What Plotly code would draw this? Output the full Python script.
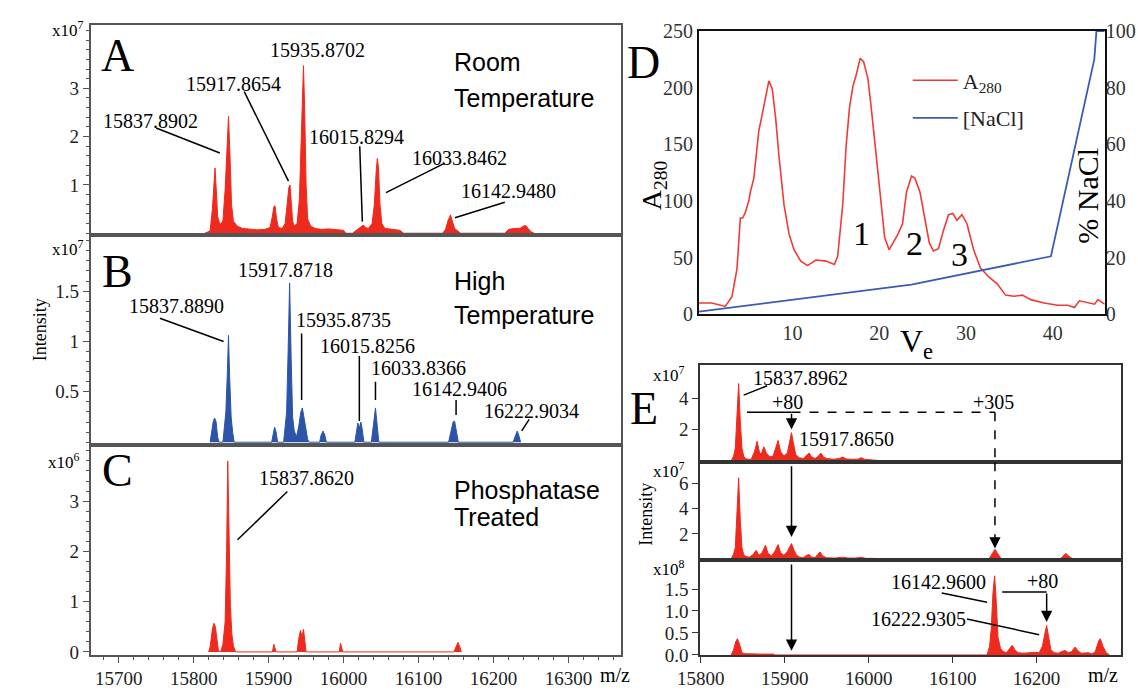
import plotly.graph_objects as go

W, H = 1138, 695
SERIF = "Liberation Serif"
SANS = "Liberation Sans"
RED = "#EE2A1E"
BLUE = "#2C54A8"

# ---------------- data ----------------
# Panel A (room temperature), intensity x1e7
A_mz = [15815, 15822, 15825, 15827, 15828.5, 15830, 15832, 15835, 15839, 15842, 15844.5, 15846.5, 15848.5,
        15850.5, 15853, 15858, 15865, 15875, 15885, 15895, 15902, 15905, 15907, 15908.5, 15910.5, 15913,
        15918, 15922, 15925, 15927, 15928.5, 15930, 15932, 15934, 15938, 15941, 15943.5, 15945.5, 15946.5,
        15948, 15950, 15952, 15956, 15962, 15970, 15980, 15990, 16000, 16003, 16012, 16016, 16020, 16024,
        16026.5, 16029, 16033, 16038, 16041, 16043.5, 16045, 16046.5, 16048.5, 16051, 16055, 16065, 16075,
        16080, 16132, 16136, 16139, 16142.5, 16145, 16148, 16152, 16156, 16215, 16220, 16228, 16235, 16240,
        16243, 16246, 16250, 16254]
A_int = [0, 0.05, 0.5, 1.1, 1.35, 0.95, 0.35, 0.18, 0.25, 0.9, 1.9, 2.42, 1.6,
         0.6, 0.25, 0.15, 0.1, 0.08, 0.07, 0.08, 0.12, 0.35, 0.55, 0.57, 0.3, 0.12,
         0.1, 0.2, 0.65, 0.95, 1.0, 0.7, 0.25, 0.15, 0.2, 0.7, 2.2, 3.3, 3.47,
         2.6, 1.0, 0.3, 0.15, 0.1, 0.08, 0.09, 0.07, 0.06, 0, 0, 0.05, 0.1, 0.15,
         0.17, 0.12, 0.1, 0.2, 0.6, 1.3, 1.55, 1.35, 0.6, 0.2, 0.1, 0.08, 0.06,
         0, 0, 0.08, 0.25, 0.38, 0.25, 0.1, 0.05, 0, 0, 0.08, 0.1, 0.1, 0.15,
         0.16, 0.1, 0.03, 0]

# Panel B (high temperature), intensity x1e7
B_mz = [15822, 15824, 15826, 15828, 15830, 15832, 15834, 15839, 15841, 15843, 15845, 15846.5, 15848, 15850,
        15852, 15854, 15904, 15906, 15908, 15910, 15912, 15920, 15922, 15924, 15926, 15928, 15930, 15932,
        15934, 15937, 15940, 15943, 15945, 15947, 15949, 15952, 15954, 15968, 15970, 15972.5, 15975, 15977,
        16015, 16017, 16019, 16021, 16023, 16025, 16027, 16037, 16039, 16042.5, 16045, 16047, 16140, 16143,
        16146, 16148, 16150, 16153, 16226, 16229, 16231.5, 16234, 16236]
B_int = [0, 0.1, 0.2, 0.24, 0.2, 0.05, 0, 0, 0.12, 0.3, 0.7, 1.06, 0.65, 0.25,
         0.1, 0, 0, 0.08, 0.15, 0.1, 0, 0, 0.15, 0.3, 0.9, 1.58, 0.85, 0.25,
         0.12, 0.05, 0.15, 0.3, 0.34, 0.25, 0.12, 0.03, 0, 0, 0.07, 0.11, 0.07, 0,
         0, 0.12, 0.19, 0.14, 0.2, 0.12, 0, 0, 0.15, 0.34, 0.15, 0, 0, 0.12,
         0.2, 0.21, 0.12, 0, 0, 0.07, 0.11, 0.06, 0]

# Panel C (phosphatase treated), intensity x1e6
C_mz = [15820, 15822, 15825, 15827, 15829, 15831, 15833, 15836, 15839, 15842, 15844, 15845.5, 15847, 15849,
        15851, 15853, 15856, 15905, 15907, 15909, 15910, 15938, 15940, 15942.5, 15944.5, 15946.5, 15948.5,
        15950, 15994, 15996, 15998, 15999, 16147, 16150, 16152.5, 16155, 16157]
C_int = [0, 0.1, 0.45, 0.57, 0.5, 0.2, 0.03, 0, 0.15, 0.6, 2.0, 3.8, 2.4, 0.9,
         0.35, 0.12, 0, 0, 0.15, 0.03, 0, 0, 0.25, 0.43, 0.3, 0.45, 0.2,
         0, 0, 0.17, 0.05, 0, 0, 0.12, 0.19, 0.1, 0]

# Panel D (chromatography)
D_ve = [-0.77, 0.70, 2.25, 3.02, 3.60, 3.99, 4.26, 4.57, 4.96, 5.15, 5.54, 6.12, 6.50, 6.89, 7.28, 7.67, 8.05,
        8.44, 9.02, 9.60, 10.18, 10.96, 11.73, 12.70, 13.86, 14.83, 15.21, 15.80, 16.18, 16.57, 16.96, 17.34,
        17.81, 18.20, 18.70, 19.09, 19.67, 20.25, 20.63, 21.14, 21.60, 22.18, 22.69, 23.15, 23.73, 24.12,
        24.70, 25.28, 25.78, 26.25, 26.83, 27.41, 27.99, 28.49, 28.96, 29.54, 30.12, 30.89, 31.67, 32.64,
        33.60, 34.57, 35.54, 36.51, 37.48, 39.02, 40.57, 41.73, 42.51, 43.09, 44.06, 44.83, 45.22, 46.0]
D_a280 = [10, 10, 7, 15.6, 40, 85, 85, 90, 100, 108, 120, 162, 176, 191, 206, 199, 174,
          140, 97, 71, 57, 47, 43, 48, 47, 44, 51, 97, 148, 182, 201, 211,
          226, 223, 208, 182, 140, 97, 68, 57, 63, 71, 80, 108, 122, 120,
          108, 85, 63, 56, 58, 74, 88, 89, 83, 88, 80, 57, 41, 33,
          27, 17, 16, 17, 13, 10, 8, 8, 6, 12, 10, 9, 13, 9]
NaCl_ve = [-0.77, 23.7, 39.8, 44.8, 45.05, 46.0]
NaCl_pct = [1, 10.5, 20.5, 90, 100, 100]

# Panel E (three fractions)
E1_mz = [15836, 15839, 15841, 15843, 15845, 15847, 15849, 15851, 15853, 15856, 15860, 15864, 15867, 15870,
         15872, 15875, 15878, 15882, 15886, 15889, 15892, 15895, 15899, 15903, 15906, 15908, 15910, 15913,
         15917, 15922, 15926, 15929, 15932, 15936, 15940, 15943, 15946, 15950, 15958, 15965, 15969, 15973,
         15980, 15987, 15991, 15995, 16005, 16017, 16018]
E1_int = [0, 0.3, 0.8, 3.0, 4.94, 2.5, 0.8, 0.3, 0.15, 0.1, 0.1, 0.6, 1.25, 0.5,
          0.45, 0.9, 0.5, 0.25, 0.3, 0.8, 1.3, 0.6, 0.3, 0.5, 1.4, 1.8, 1.2, 0.4,
          0.2, 0.15, 0.35, 0.5, 0.25, 0.15, 0.3, 0.5, 0.25, 0.15, 0.1, 0.15, 0.25, 0.12,
          0.1, 0.1, 0.2, 0.1, 0.05, 0.03, 0]
E2_mz = [15836, 15839, 15841, 15843, 15845, 15847, 15849, 15851, 15854, 15858, 15862, 15866, 15869, 15873,
         15877, 15880, 15884, 15888, 15892, 15895, 15899, 15903, 15908, 15911, 15914, 15918, 15922, 15926,
         15929, 15932, 15936, 15939, 15942, 15945, 15950, 15960, 15969, 15975, 15985, 15991, 15996, 16010,
         16017, 16018, 16143, 16146, 16148, 16150.5, 16153, 16156, 16158, 16228, 16231, 16235, 16238, 16241,
         16245]
E2_int = [0, 0.4, 0.9, 3.5, 6.46, 3.0, 0.9, 0.35, 0.2, 0.15, 0.35, 0.7, 0.3, 0.5,
          1.1, 0.45, 0.25, 0.6, 1.15, 0.5, 0.3, 0.6, 1.23, 0.7, 0.3, 0.15, 0.1, 0.3,
          0.37, 0.15, 0.12, 0.35, 0.57, 0.25, 0.1, 0.08, 0.15, 0.08, 0.08, 0.15, 0.06, 0.05,
          0.03, 0, 0, 0.3, 0.6, 0.78, 0.5, 0.15, 0, 0, 0.2, 0.45, 0.25, 0.1,
          0]
E3_mz = [15836, 15839, 15841.5, 15843.5, 15846, 15849, 15852, 15860, 15870, 15880, 15887, 15888, 16141, 16144,
         16146, 16148, 16150, 16152, 16154, 16157, 16160, 16164, 16168, 16171, 16174, 16178, 16185, 16192,
         16198, 16203, 16207, 16210, 16212, 16214, 16217, 16221, 16226, 16230, 16234, 16238, 16242, 16246,
         16249, 16253, 16258, 16262, 16266, 16270, 16274, 16276, 16279, 16283, 16287]
E3_int = [0, 0.12, 0.3, 0.37, 0.25, 0.05, 0.03, 0.02, 0.02, 0.02, 0.02, 0, 0, 0.2,
          0.6, 1.4, 1.8, 1.2, 0.4, 0.15, 0.08, 0.05, 0.15, 0.22, 0.12, 0.05, 0.04, 0.05,
          0.06, 0.05, 0.2, 0.5, 0.67, 0.45, 0.12, 0.05, 0.04, 0.08, 0.1, 0.05, 0.08, 0.18,
          0.1, 0.04, 0.05, 0.05, 0.02, 0.08, 0.32, 0.37, 0.2, 0.05, 0]

LEFT_XTICKS = [15700, 15800, 15900, 16000, 16100, 16200, 16300]
E_XTICKS = [15800, 15900, 16000, 16100, 16200]


# ---------------- helpers (pixel -> paper) ----------------
def fx(p):
    return p / W


def fy(p):
    return 1 - p / H


def dom_y(top, bottom):
    return [fy(bottom), fy(top)]


fig = go.Figure()


def spectrum(x, y, color, xa, ya):
    fig.add_trace(go.Scatter(x=x, y=y, mode="lines", fill="tozeroy", fillcolor=color,
                             line=dict(color=color, width=1), xaxis=xa, yaxis=ya,
                             showlegend=False, hoverinfo="skip"))


spectrum(A_mz, A_int, RED, "x", "y")
spectrum(B_mz, B_int, BLUE, "x2", "y2")
spectrum(C_mz, C_int, RED, "x3", "y3")
spectrum(E1_mz, E1_int, RED, "x5", "y6")
spectrum(E2_mz, E2_int, RED, "x6", "y7")
spectrum(E3_mz, E3_int, RED, "x7", "y8")

fig.add_trace(go.Scatter(x=D_ve, y=D_a280, mode="lines", line=dict(color="#F03A36", width=1.6),
                         name="A<sub>280</sub>", legendgroup="a", xaxis="x4", yaxis="y4"))
fig.add_trace(go.Scatter(x=NaCl_ve, y=NaCl_pct, mode="lines", line=dict(color="#3B5CB4", width=1.8),
                         name="[NaCl]", legendgroup="b", xaxis="x4", yaxis="y5"))

GRAY = "#555555"
TICKF = dict(family=SERIF, size=19, color="#222222")


def base_axis(**kw):
    d = dict(showline=True, mirror=True, linecolor=GRAY, linewidth=1.5, showgrid=False,
             zeroline=False, tickfont=TICKF, ticks="", showticklabels=False)
    d.update(kw)
    return d


LX = [fx(69), fx(610)]
LXR = [15662.6, 16369.5]

layout_axes = dict(
    xaxis=base_axis(domain=LX, range=LXR, anchor="y"),
    yaxis=base_axis(domain=dom_y(14.5, 231), range=[-0.03, 4.31], anchor="x",
                    tickvals=[1, 2, 3], ticktext=["1", "2", "3"], showticklabels=True,
                    ticks="outside", ticklen=6, tickwidth=1.3, tickcolor=GRAY,
                    minor=dict(dtick=0.2, tick0=0, ticks="outside", ticklen=3, tickcolor=GRAY)),
    xaxis2=base_axis(domain=LX, range=LXR, anchor="y2"),
    yaxis2=base_axis(domain=dom_y(231, 448), range=[-0.026, 2.06], anchor="x2",
                     tickvals=[0.5, 1, 1.5], ticktext=["0.5", "1", "1.5"], showticklabels=True,
                     ticks="outside", ticklen=6, tickwidth=1.3, tickcolor=GRAY,
                     minor=dict(dtick=0.1, tick0=0, ticks="outside", ticklen=3, tickcolor=GRAY)),
    xaxis3=base_axis(domain=LX, range=LXR, anchor="y3", showticklabels=True,
                     tickvals=LEFT_XTICKS, ticktext=[str(v) for v in LEFT_XTICKS],
                     ticks="outside", ticklen=6, tickwidth=1.3, tickcolor=GRAY,
                     minor=dict(dtick=20, tick0=15700, ticks="outside", ticklen=3, tickcolor=GRAY)),
    yaxis3=base_axis(domain=dom_y(448, 665), range=[-0.06, 4.12], anchor="x3",
                     tickvals=[0, 1, 2, 3], ticktext=["0", "1", "2", "3"], showticklabels=True,
                     ticks="outside", ticklen=6, tickwidth=1.3, tickcolor=GRAY,
                     minor=dict(dtick=0.2, tick0=0, ticks="outside", ticklen=3, tickcolor=GRAY)),
    # D
    xaxis4=base_axis(domain=[fx(690), fx(1104)], range=[-0.77, 46.0], anchor="y4",
                     linecolor="#111111", linewidth=2, showticklabels=True,
                     tickvals=[10, 20, 30, 40], ticktext=["10", "20", "30", "40"],
                     tickfont=dict(family=SERIF, size=20, color="#333333")),
    yaxis4=base_axis(domain=dom_y(20.7, 313.3), range=[0, 250], anchor="x4",
                     linecolor="#111111", linewidth=2, showticklabels=True,
                     tickvals=[0, 50, 100, 150, 200, 250],
                     ticktext=["0", "50", "100", "150", "200", "250"],
                     tickfont=dict(family=SERIF, size=20, color="#333333")),
    yaxis5=dict(overlaying="y4", anchor="x4", side="right", range=[0, 100], showgrid=False,
                zeroline=False, showline=False, ticks="", tickvals=[0, 20, 40, 60, 80, 100],
                ticktext=["0", "20", "40", "60", "80", "100"],
                tickfont=dict(family=SERIF, size=20, color="#333333")),
)

EX = [fx(691), fx(1121)]
EXR = [15799, 16301]
ECOL = "#333333"
layout_axes.update(dict(
    xaxis5=base_axis(domain=EX, range=EXR, anchor="y6", linecolor=ECOL),
    yaxis6=base_axis(domain=dom_y(366, 466), range=[-0.09, 6.1], anchor="x5", linecolor=ECOL,
                     tickvals=[2, 4], ticktext=["2", "4"], showticklabels=True,
                     ticks="outside", ticklen=6, tickcolor=ECOL),
    xaxis6=base_axis(domain=EX, range=EXR, anchor="y7", linecolor=ECOL),
    yaxis7=base_axis(domain=dom_y(466, 566.5), range=[-0.04, 7.69], anchor="x6", linecolor=ECOL,
                     tickvals=[2, 4, 6], ticktext=["2", "4", "6"], showticklabels=True,
                     ticks="outside", ticklen=6, tickcolor=ECOL),
    xaxis7=base_axis(domain=EX, range=EXR, anchor="y8", linecolor=ECOL, showticklabels=True,
                     tickvals=E_XTICKS, ticktext=[str(v) for v in E_XTICKS],
                     ticks="outside", ticklen=6, tickcolor=ECOL),
    yaxis8=base_axis(domain=dom_y(566.5, 665), range=[0, 2.17], anchor="x7", linecolor=ECOL,
                     tickvals=[0, 0.5, 1, 1.5], ticktext=["0.0", "0.5", "1.0", "1.5"],
                     showticklabels=True, ticks="outside", ticklen=6, tickcolor=ECOL),
))

annotations = []
shapes = []


def txt(text, x, y, xref="paper", yref="paper", size=20, family=SERIF, angle=0,
        xanchor="center", yanchor="middle", color="black"):
    annotations.append(dict(text=text, x=x, y=y, xref=xref, yref=yref, showarrow=False,
                            textangle=angle, xanchor=xanchor, yanchor=yanchor,
                            font=dict(family=family, size=size, color=color)))


def seg(x0, y0, x1, y1, xref, yref, dash="solid", width=1.5):
    shapes.append(dict(type="line", x0=x0, y0=y0, x1=x1, y1=y1, xref=xref, yref=yref,
                       line=dict(color="black", width=width, dash=dash)))


def arrow(xt, yt, xtail, ytail, xref, yref):
    annotations.append(dict(text="", x=xt, y=yt, ax=xtail, ay=ytail, xref=xref, yref=yref,
                            axref=xref, ayref=yref, showarrow=True, arrowhead=2, arrowsize=1.5,
                            arrowwidth=1.5, arrowcolor="black", standoff=0, startstandoff=0,
                            font=dict(size=12)))


# ---- Panel A ----
txt("A", 15698, 3.67, "x", "y", size=46)
txt("x10<sup>7</sup>", fx(46), fy(19), size=17)
for t, x, y in [("15837.8902", 15742.5, 2.32), ("15917.8654", 15852.5, 3.08), ("15935.8702", 15965, 3.80),
                ("16015.8294", 16017.5, 1.99), ("16033.8462", 16155, 1.55), ("16142.9480", 16220, 0.875)]:
    txt(t, x, y, "x", "y", size=20)
seg(15750, 2.18, 15835, 1.66, "x", "y")
seg(15867.5, 2.93, 15926.5, 1.08, "x", "y")
seg(16021.5, 1.80, 16025, 0.24, "x", "y")
seg(16135, 1.45, 16056.5, 0.84, "x", "y")
seg(16215, 0.64, 16148.5, 0.32, "x", "y")
txt("Room", 16145, 3.54, "x", "y", size=25, family=SANS, xanchor="left")
txt("Temperature", 16145, 2.79, "x", "y", size=25, family=SANS, xanchor="left")

# ---- Panel B ----
txt("B", 15698, 1.69, "x2", "y2", size=46)
txt("x10<sup>7</sup>", fx(46), fy(245), size=17)
for t, x, y in [("15837.8890", 15777.5, 1.355), ("15917.8718", 15922.5, 1.71), ("15935.8735", 16000, 1.21),
                ("16015.8256", 16032.5, 0.95), ("16033.8366", 16100, 0.735), ("16142.9406", 16155, 0.53),
                ("16222.9034", 16250, 0.31)]:
    txt(t, x, y, "x2", "y2", size=20)
seg(15755, 1.23, 15840, 1.0, "x2", "y2")
seg(15944, 1.08, 15944, 0.42, "x2", "y2")
seg(16021, 0.855, 16021, 0.21, "x2", "y2")
seg(16042.5, 0.6, 16042.5, 0.42, "x2", "y2")
seg(16150, 0.42, 16150, 0.27, "x2", "y2")
seg(16247.5, 0.226, 16237.5, 0.113, "x2", "y2")
txt("High", 16145, 1.60, "x2", "y2", size=25, family=SANS, xanchor="left")
txt("Temperature", 16145, 1.26, "x2", "y2", size=25, family=SANS, xanchor="left")
txt("Intensity", fx(17), fy(329), size=18, angle=-90)

# ---- Panel C ----
txt("C", 15698, 3.6, "x3", "y3", size=46)
txt("x10<sup>6</sup>", fx(42), fy(465), size=17)
txt("15837.8620", 15950, 3.45, "x3", "y3", size=20)
seg(15925, 3.19, 15858.5, 2.23, "x3", "y3")
txt("Phosphatase", 16145, 3.22, "x3", "y3", size=25, family=SANS, xanchor="left")
txt("Treated", 16145, 2.68, "x3", "y3", size=25, family=SANS, xanchor="left")
txt("m/z", fx(604), fy(686), size=20)

# ---- Panel D ----
txt("D", fx(633), fy(53), size=46)
txt("A<sub>280</sub>", fx(643), fy(180), size=28, angle=-90)
txt("% NaCl", 44.0, 105, "x4", "y4", size=30, angle=-90)
txt("V<sub>e</sub>", fx(912), fy(343), size=32)
txt("1", 18.0, 71, "x4", "y4", size=34)
txt("2", 24.1, 62.6, "x4", "y4", size=34)
txt("3", 29.3, 52.7, "x4", "y4", size=34)

# ---- Panel E ----
txt("E", fx(634), fy(410), size=46)
txt("Intensity", fx(635), fy(520), size=18, angle=-90)
txt("x10<sup>7</sup>", fx(659), fy(375), size=17)
txt("x10<sup>7</sup>", fx(659), fy(474), size=17)
txt("x10<sup>8</sup>", fx(659), fy(575), size=17)
txt("m/z", fx(1102), fy(686), size=20)

txt("15837.8962", 15919, 5.3, "x5", "y6", size=20)
seg(15851, 4.2, 15879, 4.8, "x5", "y6")
txt("+80", 15903, 3.75, "x5", "y6", size=20)
seg(15855, 3.1, 15908, 3.1, "x5", "y6")
arrow(15908, 2.0, 15908, 3.1, "x5", "y6")
seg(15908, 3.1, 16150.4, 3.1, "x5", "y6", dash="dash")
seg(16150.4, 3.1, 16150.4, -0.09, "x5", "y6", dash="dash")
txt("+305", 16149, 3.75, "x5", "y6", size=20)
txt("15917.8650", 15973, 1.4, "x5", "y6", size=20)

seg(16150.4, 7.69, 16150.4, 1.6, "x6", "y7", dash="dash")
arrow(16150.4, 0.84, 16150.4, 1.7, "x6", "y7")
arrow(15908, 1.75, 15908, 7.5, "x6", "y7")

arrow(15908, 0.094, 15908, 2.09, "x7", "y8")
txt("16142.9600", 16083, 1.65, "x7", "y8", size=20)
seg(16087, 1.41, 16141, 1.2, "x7", "y8")
txt("16222.9305", 16059, 0.82, "x7", "y8", size=20)
seg(16117, 0.82, 16203, 0.46, "x7", "y8")
txt("+80", 16207, 1.68, "x7", "y8", size=20)
seg(16159, 1.43, 16212, 1.43, "x7", "y8")
arrow(16212, 0.75, 16212, 1.43, "x7", "y8")

fig.update_layout(
    width=W, height=H, margin=dict(l=0, r=0, t=0, b=0),
    paper_bgcolor="white", plot_bgcolor="white",
    font=dict(family=SERIF, color="black"),
    showlegend=True,
    legend=dict(x=fx(903), y=fy(50), xanchor="left", yanchor="top", bgcolor="rgba(0,0,0,0)",
                font=dict(family=SERIF, size=22, color="#222222"), tracegroupgap=6, itemwidth=45),
    annotations=annotations, shapes=shapes,
    **layout_axes,
)

fig.write_html("out.html")
